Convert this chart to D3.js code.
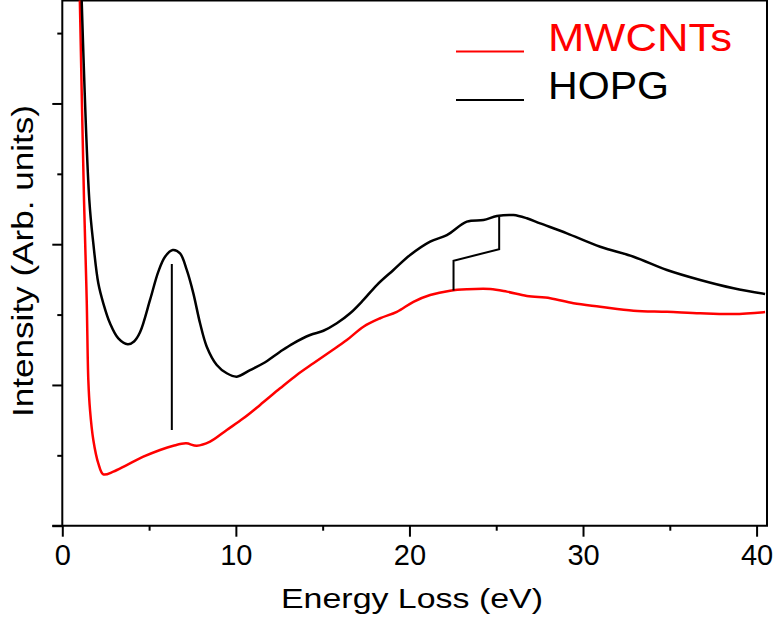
<!DOCTYPE html>
<html>
<head>
<meta charset="utf-8">
<script src="https://cdn.jsdelivr.net/npm/d3@7"></script>
<style>
  body { margin: 0; background: #fff; }
  text { font-family: "Liberation Sans", Arial, sans-serif; }
</style>
</head>
<body>
<svg id="chart" width="775" height="619"></svg>
<script>
// spectra: [energy loss (eV), intensity (arb.)]
const hopg = [
  [1.10, 3.80], [1.556, 2.314], [1.787, 2.006], [2.075, 1.722], [2.363, 1.580],
  [2.749, 1.438], [3.228, 1.331], [3.769, 1.289], [4.133, 1.309], [4.484, 1.376],
  [5.055, 1.604], [5.533, 1.805], [5.919, 1.911], [6.363, 1.959], [6.784, 1.935],
  [7.170, 1.817], [7.550, 1.651], [7.937, 1.438], [8.323, 1.272], [8.899, 1.142],
  [9.476, 1.083], [10.052, 1.059], [10.818, 1.106], [11.585, 1.154], [12.548, 1.236],
  [13.314, 1.296], [14.277, 1.355], [15.043, 1.385], [15.816, 1.438], [16.582, 1.509],
  [17.349, 1.604], [18.121, 1.710], [19.078, 1.817], [20.040, 1.923], [21.193, 2.018],
  [22.156, 2.065], [23.308, 2.160], [24.265, 2.172], [25.037, 2.200], [25.994, 2.207],
  [26.767, 2.184], [27.533, 2.148], [29.072, 2.077], [30.991, 1.982], [32.911, 1.911],
  [34.836, 1.817], [36.755, 1.746], [38.674, 1.687], [40.49, 1.646]
];
const mwcnts = [
  [1.00, 3.80], [1.251, 2.314], [1.406, 1.604], [1.499, 1.035], [1.597, 0.822],
  [1.787, 0.609], [2.075, 0.443], [2.363, 0.365], [2.939, 0.384], [3.712, 0.431],
  [4.669, 0.490], [5.631, 0.538], [6.398, 0.568], [7.130, 0.585], [7.746, 0.568],
  [8.513, 0.597], [9.476, 0.680], [10.432, 0.763], [11.395, 0.858], [12.548, 0.976],
  [13.510, 1.071], [14.467, 1.154], [15.429, 1.236], [16.392, 1.319], [17.349, 1.414],
  [18.311, 1.474], [19.274, 1.520], [20.231, 1.591], [21.193, 1.639], [22.346, 1.670],
  [23.308, 1.680], [24.651, 1.682], [25.614, 1.663], [26.767, 1.632], [28.110, 1.616],
  [29.452, 1.580], [30.991, 1.556], [32.911, 1.528], [34.836, 1.520], [36.755, 1.509],
  [38.674, 1.504], [40.49, 1.518]
];
// marker lines drawn on the plot (pi plasmon and pi+sigma shift)
const piMarker = [[6.31, 1.859], [6.31, 0.680]];
const shiftMarker = [[22.54, 1.671], [22.54, 1.883], [25.17, 1.964], [25.17, 2.193]];

const xMajor = [0, 10, 20, 30, 40];
const xMinor = [5, 15, 25, 35];
const yMajor = [0, 1, 2, 3];
const yMinor = [0.5, 1.5, 2.5, 3.5];

const svg = d3.select("#chart");
const plotLeft = 62.3, plotRight = 767, plotTop = 0.5, plotBottom = 525.7;

const x = d3.scaleLinear().domain([0, 40.6]).range([plotLeft, plotRight]);
const y = d3.scaleLinear().domain([0, 3.7315]).range([plotBottom, plotTop]);

svg.append("clipPath").attr("id", "plotclip")
  .append("rect")
  .attr("x", plotLeft).attr("y", plotTop)
  .attr("width", plotRight - plotLeft).attr("height", plotBottom - plotTop);

// axes: ticks point outward, no labels on the intensity axis
const xAxisMajor = d3.axisBottom(x).tickValues(xMajor).tickSize(11).tickPadding(8).tickFormat(d3.format("d"));
const xAxisMinor = d3.axisBottom(x).tickValues(xMinor).tickSize(5).tickFormat("");
const yAxisMajor = d3.axisLeft(y).tickValues(yMajor).tickSize(10).tickFormat("");
const yAxisMinor = d3.axisLeft(y).tickValues(yMinor).tickSize(5).tickFormat("");

function styleAxis(g) {
  g.select(".domain").remove();
  g.selectAll(".tick line").attr("stroke", "#000").attr("stroke-width", 2);
  g.selectAll(".tick text").attr("fill", "#000").style("font-size", "29px");
}

svg.append("g").attr("transform", `translate(0,${plotBottom})`).call(xAxisMajor).call(styleAxis);
svg.append("g").attr("transform", `translate(0,${plotBottom})`).call(xAxisMinor).call(styleAxis);
svg.append("g").attr("transform", `translate(${plotLeft},0)`).call(yAxisMajor).call(styleAxis);
svg.append("g").attr("transform", `translate(${plotLeft},0)`).call(yAxisMinor).call(styleAxis);

// frame
svg.append("path")
  .attr("d", `M${plotLeft - 10},${plotBottom}H${plotRight}V${plotTop}H${plotLeft}V${plotBottom}`)
  .attr("fill", "none").attr("stroke", "#000").attr("stroke-width", 2);

const line = d3.line().x(d => x(d[0])).y(d => y(d[1])).curve(d3.curveCatmullRom.alpha(0.5));
const straight = d3.line().x(d => x(d[0])).y(d => y(d[1]));

const plot = svg.append("g").attr("clip-path", "url(#plotclip)");
plot.append("path").datum(mwcnts).attr("d", line)
  .attr("fill", "none").attr("stroke", "#ff0000").attr("stroke-width", 2.5);
plot.append("path").datum(hopg).attr("d", line)
  .attr("fill", "none").attr("stroke", "#000").attr("stroke-width", 2.5);

[piMarker, shiftMarker].forEach(m => {
  plot.append("path").datum(m).attr("d", straight)
    .attr("fill", "none").attr("stroke", "#000").attr("stroke-width", 2);
});

// legend
const legend = [
  { name: "MWCNTs", color: "#ff0000", y: 51.5, len: 184 },
  { name: "HOPG", color: "#000", y: 100, len: 121 }
];
legend.forEach(d => {
  svg.append("line")
    .attr("x1", 456).attr("x2", 524).attr("y1", d.y).attr("y2", d.y)
    .attr("stroke", d.color).attr("stroke-width", 2);
  svg.append("text")
    .attr("x", 548).attr("y", d.y - 1)
    .attr("fill", d.color)
    .attr("textLength", d.len).attr("lengthAdjust", "spacingAndGlyphs")
    .style("font-size", "39px")
    .text(d.name);
});

// axis titles
svg.append("text")
  .attr("x", 281).attr("y", 608)
  .attr("textLength", 262).attr("lengthAdjust", "spacingAndGlyphs")
  .style("font-size", "28px")
  .text("Energy Loss (eV)");

svg.append("text")
  .attr("transform", "translate(33,417) rotate(-90)")
  .attr("textLength", 312).attr("lengthAdjust", "spacingAndGlyphs")
  .style("font-size", "29px")
  .text("Intensity (Arb. units)");
</script>
</body>
</html>
